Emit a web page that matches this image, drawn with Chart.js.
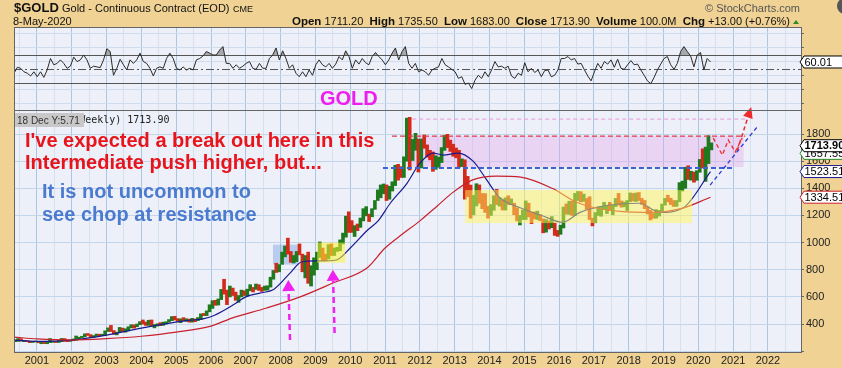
<!DOCTYPE html>
<html>
<head>
<meta charset="utf-8">
<script src="https://cdn.jsdelivr.net/npm/chart.js@4/dist/chart.umd.min.js"></script>
<style>
  body { margin: 0; background: #f0d294; }
  #wrap { position: relative; width: 842px; height: 368px; overflow: hidden; background: #f0d294; }
  #wrap canvas { position: absolute; left: 0; top: 0; }
</style>
</head>
<body>
<div id="wrap">
  <canvas id="rsi" width="842" height="368"></canvas>
  <canvas id="price" width="842" height="368"></canvas>
</div>
<script>
// ---- data: $GOLD monthly ranges, May 2000 .. May 2020 ----
const firstMonth = 2000 + 4 / 12; // May 2000
const priceLow = [
  270,272,275,270,270,263,264,268,
  262,255,256,255,263,265,264,264,270,273,270,272,
  277,282,290,300,306,316,300,300,310,310,315,316,
  345,345,325,320,340,345,340,350,372,370,380,395,
  400,390,390,385,372,385,388,390,400,414,425,430,
  420,410,425,420,414,414,417,425,432,462,462,490,
  515,538,540,580,620,543,600,610,575,560,600,610,
  605,645,636,655,648,640,648,650,672,730,780,785,
  840,895,915,855,850,860,910,785,740,700,680,760,
  800,890,865,865,880,905,905,935,940,990,1040,1075,
  1075,1045,1088,1112,1160,1197,1155,1190,1245,1310,1330,1360,
  1310,1320,1380,1420,1460,1480,1480,1600,1535,1605,1680,1520,
  1550,1695,1630,1610,1525,1540,1555,1590,1680,1700,1672,1636,
  1625,1555,1560,1320,1338,1180,1205,1270,1290,1250,1222,1180,
  1200,1238,1280,1268,1240,1240,1280,1280,1205,1160,1130,1170,
  1170,1190,1140,1175,1170,1162,1072,1077,1100,1110,1053,1046,
  1061,1108,1210,1208,1200,1200,1310,1300,1303,1245,1170,1123,
  1146,1200,1194,1244,1214,1236,1205,1265,1276,1261,1264,1236,
  1302,1307,1303,1310,1282,1250,1211,1167,1180,1180,1196,1221,
  1276,1300,1280,1266,1267,1301,1380,1400,1465,1460,1445,1459,
  1518,1550,1451,1582,1683
];
const priceHigh = [
  282,293,292,280,277,273,272,275,
  272,268,268,265,293,275,272,280,294,293,283,281,
  290,312,303,310,328,330,322,315,326,325,325,350,
  372,390,352,340,375,370,365,380,395,394,400,418,
  430,415,428,430,396,402,410,414,417,433,455,457,
  440,438,447,439,436,442,437,448,475,478,497,542,
  572,575,585,655,730,650,680,665,635,610,650,645,
  657,690,670,695,690,670,680,682,745,795,848,838,
  930,975,1033,935,905,935,990,915,905,930,830,888,
  930,1005,960,915,985,990,960,965,1020,1070,1195,1227,
  1162,1125,1137,1181,1250,1265,1210,1250,1310,1388,1425,1432,
  1425,1415,1448,1570,1577,1560,1632,1917,1923,1760,1805,1763,
  1763,1793,1720,1680,1668,1640,1630,1700,1790,1798,1755,1725,
  1697,1680,1617,1610,1488,1424,1348,1434,1425,1362,1361,1268,
  1280,1345,1392,1332,1316,1330,1345,1322,1290,1255,1200,1240,
  1307,1290,1225,1225,1232,1205,1175,1170,1160,1192,1145,1090,
  1128,1262,1285,1305,1305,1363,1377,1375,1357,1325,1338,1180,
  1221,1264,1262,1297,1274,1297,1275,1325,1362,1307,1299,1310,
  1366,1362,1365,1369,1326,1310,1262,1237,1214,1243,1237,1284,
  1326,1349,1327,1310,1310,1442,1453,1555,1566,1526,1520,1530,
  1613,1691,1704,1788,1735
];
const priceClose = [
  275,288,277,278,274,265,270,273,
  265,267,258,264,267,271,266,273,293,279,275,279,
  282,297,302,308,326,318,304,313,324,317,318,347,
  368,347,335,339,364,346,354,375,388,384,398,416,
  400,396,427,387,394,396,391,409,416,429,453,438,
  422,435,428,435,418,436,430,433,473,470,495,518,
  569,556,583,655,645,614,634,626,599,606,648,635,
  650,669,663,679,659,650,666,673,743,795,783,838,
  923,975,917,865,887,930,912,833,880,718,816,884,
  927,942,916,883,979,927,955,955,1008,1040,1182,1096,
  1081,1118,1113,1180,1212,1245,1181,1248,1308,1357,1386,1421,
  1333,1410,1439,1556,1536,1500,1628,1828,1620,1724,1746,1566,
  1738,1697,1669,1664,1559,1604,1614,1692,1776,1720,1713,1675,
  1663,1578,1597,1476,1393,1234,1312,1396,1328,1323,1250,1202,
  1244,1326,1284,1296,1250,1322,1282,1287,1211,1171,1175,1184,
  1279,1212,1183,1182,1190,1172,1095,1132,1114,1141,1064,1060,
  1116,1234,1233,1290,1215,1320,1350,1309,1313,1272,1174,1152,
  1211,1249,1249,1268,1268,1242,1269,1322,1284,1271,1275,1303,
  1345,1318,1327,1316,1305,1253,1224,1206,1192,1215,1222,1282,
  1321,1316,1298,1285,1305,1413,1437,1529,1472,1513,1465,1523,
  1587,1566,1596,1694,1714
];

// moving averages: [year, value]
const ma50 = [
  [2000.34,282],[2001.0,272],[2002.0,282],[2003.0,318],[2004.0,370],[2004.65,400],
  [2005.3,425],[2005.8,440],[2006.1,465],[2006.63,540],[2007.0,600],[2007.4,628],
  [2007.8,655],[2008.27,775],[2008.6,857],[2009.05,865],[2009.6,872],[2010.0,960],
  [2010.5,1093],[2010.8,1160],[2011.15,1290],[2011.63,1437],[2012.0,1585],[2012.38,1660],
  [2012.67,1645],[2013.1,1660],[2013.53,1600],[2013.9,1470],[2014.3,1330],[2014.9,1255],
  [2015.5,1200],[2016.1,1150],[2016.6,1223],[2017.4,1275],[2018.3,1290],[2018.9,1223],
  [2019.56,1255],[2020.35,1523]
];
const ma200 = [
  [2000.34,304],[2001.0,290],[2002.0,282],[2003.0,292],[2004.0,310],[2005.0,340],
  [2006.0,385],[2006.6,444],[2007.6,518],[2008.56,600],[2009.5,702],[2010.48,813],
  [2011.0,960],[2011.5,1063],[2012.0,1160],[2012.5,1270],[2012.95,1370],[2013.5,1460],
  [2014.2,1490],[2014.9,1482],[2015.8,1400],[2016.5,1297],[2017.1,1253],[2017.75,1230],
  [2018.7,1223],[2019.5,1250],[2020.35,1334]
];

// RSI(14), one reading every ~5 weeks from 2000.34 to 2020.35
const rsiStart = 2000.34, rsiEnd = 2020.35;
const rsiValues = [
  43.8,52.4,51,46,44,40,46,39,46,38,48.6,65,56,58,63,58,51,54,67,60.6,
  63,70,63,51,54,53,52,63,79,75,41,51,64,56,48.6,63,58,63,72.6,60.6,
  58,51,40,51,53,51,65,72.6,65,51,48.6,53,48.6,51,48.6,63,65,68.7,75,72.6,
  70,70,77,82,58,58,51,56,51,54,58,60.6,51,49.5,58,51,51,65,70,80,
  63,76,65,51,56,44,39,46,39,48.6,41,56,63,56,53,58,51,57,67.8,63,
  76,67.8,51,63,57,65,59,56,67.8,73.5,67.8,63,56,63,72.6,80,63,75,82,58,
  51,58,46,48.6,46,41,48.6,51,53,65,56,53,49.5,46,36.6,39,28,30,22,34,
  41,36.6,46,39,48.6,60.6,53,54,51,54,40,36.6,44,41,59,46,51,45,48.6,39,
  47.6,48.6,39,41,48.6,65,65,67.8,63,65,57,58,48.6,40,33,46,58,51,60.6,57,
  63,52.4,64,51,49.5,56,62,56,57,48.6,41,33,29,38,48.6,57,65,67.8,56,49.5,
  58,75,82,75,68.7,53,70,73.5,48.6,65,60.01
];

const xMin = 2000.34, xMax = 2022.95;
const yearTicks = [2001, 2022];
const priceTicks = [400, 600, 800, 1000, 1200, 1400, 1600, 1800];
const rsiTicks = [10, 30, 50, 70, 90];

// last values shown in the right margin
const lastClose = 1713.90, lastMa20 = 1657.55, lastMa50 = 1523.51, lastMa200 = 1334.51, lastRsi = 60.01;

const up = '#1f7a1f', down = '#d42a1a';
const font = 'Liberation Sans, Arial, sans-serif';

const bars = priceClose.map((c, i) => ({ x: firstMonth + (i + 0.5) / 12, y: [priceLow[i], priceHigh[i]] }));
const barColors = priceClose.map((c, i) => c >= (i ? priceClose[i - 1] : c) ? up : down);
const rsiStep = (rsiEnd - rsiStart) / (rsiValues.length - 1);
const rsiPoints = rsiValues.map((v, i) => ({ x: rsiStart + i * rsiStep, y: v }));

function xGridColor(ctx) {
  const v = ctx.tick.value;
  if (Math.abs(v - Math.round(v)) < 1e-6) return '#a9c6e2';
  return '#d4e2f0';
}

function xAxis(showLabels) {
  return {
    type: 'linear', min: xMin, max: xMax, offset: false,
    grid: { offset: false, color: xGridColor, drawTicks: false },
    border: { color: '#666' },
    ticks: {
      display: showLabels, stepSize: 0.5, includeBounds: false, autoSkip: false, maxRotation: 0,
      padding: 2, color: '#222', font: { family: font, size: 11 },
      callback: v => (Number.isInteger(v) && v >= yearTicks[0] && v <= yearTicks[1]) ? String(v) : ''
    },
    afterFit: s => { s.height = showLabels ? 16 : 0; }
  };
}

function panelBg(chart) {
  const { ctx, chartArea: a } = chart;
  ctx.save();
  ctx.fillStyle = '#eef0f9';
  ctx.fillRect(a.left, a.top, a.right - a.left, a.bottom - a.top);
  ctx.restore();
}

function tag(ctx, x, y, text, color, bold) {
  ctx.save();
  ctx.beginPath();
  ctx.moveTo(x, y);
  ctx.lineTo(x + 4, y - 6);
  ctx.lineTo(843, y - 6);
  ctx.lineTo(843, y + 6);
  ctx.lineTo(x + 4, y + 6);
  ctx.closePath();
  ctx.fillStyle = '#fff';
  ctx.fill();
  ctx.strokeStyle = color;
  ctx.lineWidth = 1;
  ctx.stroke();
  ctx.fillStyle = '#000';
  ctx.font = (bold ? 'bold ' : '') + '11px ' + font;
  ctx.textBaseline = 'middle';
  ctx.fillText(text, x + 4.5, y + 0.5);
  ctx.restore();
}

function arrow(ctx, x1, y1, x2, y2, color, w, dash, head, half) {
  const ang = Math.atan2(y2 - y1, x2 - x1);
  const hx = x2 - Math.cos(ang) * head, hy = y2 - Math.sin(ang) * head;
  ctx.save();
  ctx.strokeStyle = color; ctx.fillStyle = color; ctx.lineWidth = w;
  ctx.setLineDash(dash);
  ctx.beginPath(); ctx.moveTo(x1, y1); ctx.lineTo(hx, hy); ctx.stroke();
  ctx.setLineDash([]);
  ctx.beginPath();
  ctx.moveTo(x2, y2);
  ctx.lineTo(hx + Math.sin(ang) * half, hy - Math.cos(ang) * half);
  ctx.lineTo(hx - Math.sin(ang) * half, hy + Math.cos(ang) * half);
  ctx.closePath(); ctx.fill();
  ctx.restore();
}

// ---- RSI panel ----
const rsiPlugin = {
  id: 'rsiPanel',
  beforeDraw: panelBg,
  beforeDatasetsDraw(chart) {
    const { ctx, chartArea: a, scales: { y } } = chart;
    ctx.save();
    ctx.strokeStyle = '#555';
    ctx.lineWidth = 1;
    [30, 70].forEach(v => {
      const p = Math.round(y.getPixelForValue(v)) + 0.5;
      ctx.beginPath(); ctx.moveTo(a.left, p); ctx.lineTo(a.right, p); ctx.stroke();
    });
    ctx.setLineDash([8, 3, 2, 3]);
    const p = Math.round(y.getPixelForValue(50)) + 0.5;
    ctx.beginPath(); ctx.moveTo(a.left, p); ctx.lineTo(a.right, p); ctx.stroke();
    ctx.restore();
  },
  afterDraw(chart) {
    const { ctx, chartArea: a, scales: { y } } = chart;
    ctx.save();
    ctx.strokeStyle = '#666';
    ctx.strokeRect(a.left + 0.5, a.top + 0.5, a.right - a.left, a.bottom - a.top);
    ctx.restore();
    tag(ctx, a.right - 1, y.getPixelForValue(lastRsi), lastRsi.toFixed(2), '#000', false);
  }
};

new Chart(document.getElementById('rsi'), {
  type: 'line',
  data: {
    datasets: [{
      label: 'RSI(14)',
      data: rsiPoints,
      borderColor: '#2a2a2a',
      borderWidth: 1,
      pointRadius: 0,
      tension: 0,
      fill: { target: { value: 70 }, above: 'rgba(110,110,110,0.55)', below: 'rgba(0,0,0,0)' }
    }]
  },
  options: {
    responsive: false,
    animation: false,
    layout: { padding: { left: 14, right: 0, top: 27, bottom: 258 } },
    plugins: { legend: { display: false }, tooltip: { enabled: false } },
    scales: {
      x: xAxis(false),
      y: {
        position: 'right', min: -8.6, max: 110,
        grid: { color: '#d0dcec', tickLength: 3, tickColor: '#666' },
        border: { color: '#666' },
        ticks: {
          stepSize: 10, includeBounds: false, padding: 2, color: '#222',
          font: { family: font, size: 11 },
          callback: v => rsiTicks.includes(v) ? String(v) : ''
        },
        afterFit: s => { s.width = 41; }
      }
    }
  },
  plugins: [rsiPlugin]
});

// ---- price panel ----
const pricePlugin = {
  id: 'pricePanel',
  beforeDraw: panelBg,
  beforeDatasetsDraw(chart) {
    const { ctx, scales: { x, y } } = chart;
    const box = (x1, x2, y1, y2, fill) => {
      ctx.fillStyle = fill;
      ctx.fillRect(x.getPixelForValue(x1), y.getPixelForValue(y2),
        x.getPixelForValue(x2) - x.getPixelForValue(x1), y.getPixelForValue(y1) - y.getPixelForValue(y2));
    };
    ctx.save();
    box(2011.78, 2021.3, 1557, 1785, 'rgba(226,165,236,0.38)');
    box(2007.78, 2008.5, 838, 985, 'rgba(120,160,225,0.45)');
    ctx.restore();
  },
  afterDatasetsDraw(chart) {
    const { ctx, chartArea: a, scales: { x, y } } = chart;
    const X = v => x.getPixelForValue(v), Y = v => y.getPixelForValue(v);
    ctx.save();
    // yellow consolidation boxes
    ctx.fillStyle = 'rgba(255,248,90,0.5)';
    ctx.fillRect(X(2013.3), Y(1387), X(2019.82) - X(2013.3), Y(1144) - Y(1387));
    ctx.fillStyle = 'rgba(255,245,50,0.55)';
    ctx.fillRect(X(2009.05), Y(1000), X(2009.85) - X(2009.05), Y(852) - Y(1000));

    const hline = (v, x1, x2, color, w, dash) => {
      ctx.strokeStyle = color; ctx.lineWidth = w; ctx.setLineDash(dash);
      ctx.beginPath(); ctx.moveTo(X(x1), Y(v)); ctx.lineTo(X(x2), Y(v)); ctx.stroke();
    };
    hline(1910, 2011.78, 2021.35, '#ec94d4', 1, [4, 3]);
    hline(1785, 2011.2, 2021.35, '#e23a44', 1.2, [5, 3]);
    hline(1550, 2010.94, 2021.0, '#3a62d2', 2, [5, 3]);

    // projected chop path
    const zig = [[2020.43, 1770], [2020.69, 1645], [2020.86, 1756], [2021.06, 1668], [2021.26, 1770]];
    ctx.strokeStyle = '#ee2a2a'; ctx.lineWidth = 1.3; ctx.setLineDash([4, 3]);
    ctx.beginPath();
    zig.forEach((p, i) => i ? ctx.lineTo(X(p[0]), Y(p[1])) : ctx.moveTo(X(p[0]), Y(p[1])));
    ctx.stroke();
    ctx.setLineDash([]);
    ctx.restore();

    arrow(ctx, X(2021.12), Y(1680), X(2021.52), Y(2000), '#ee2a2a', 1.5, [4, 3], 11, 5);
    arrow(ctx, X(2020.34), Y(1424), X(2021.69), Y(1852), '#2a3ad0', 1.3, [4, 3], 0.1, 0);
    arrow(ctx, X(2008.27), Y(282), X(2008.22), Y(724), '#f020f0', 2.5, [6, 4], 11, 6.5);
    arrow(ctx, X(2009.55), Y(334), X(2009.5), Y(800), '#f020f0', 2.5, [6, 4], 11, 6.5);

    // notes
    ctx.save();
    ctx.font = 'bold 20px ' + font;
    ctx.fillStyle = '#e8141c';
    ctx.fillText("I've expected a break out here in this", 25, 147);
    ctx.fillText('Intermediate push higher, but...', 25, 169);
    ctx.fillStyle = '#4a7bcf';
    ctx.fillText('It is not uncommon to', 42, 198);
    ctx.fillText('see chop at resistance', 42, 221);

    ctx.font = '10px DejaVu Sans Mono, monospace';
    ctx.fillStyle = '#222';
    ctx.fillText('$GOLD (Weekly) 1713.90', 37, 123);
    ctx.fillStyle = '#c8c8c8';
    ctx.fillRect(a.left + 1, 113, 69, 14);
    ctx.font = '10px ' + font;
    ctx.fillStyle = '#333';
    ctx.fillText('18 Dec Y:5.71', 17, 123.5);
    ctx.restore();
  },
  afterDraw(chart) {
    const { ctx, chartArea: a, scales: { y } } = chart;
    ctx.save();
    ctx.strokeStyle = '#666';
    ctx.strokeRect(a.left + 0.5, a.top + 0.5, a.right - a.left, a.bottom - a.top);

    // header
    ctx.fillStyle = '#111';
    ctx.font = 'bold 13px ' + font;
    ctx.fillText('$GOLD', 14, 12);
    ctx.font = '11px ' + font;
    ctx.fillText('Gold - Continuous Contract (EOD)', 62, 12);
    ctx.font = '9px ' + font;
    ctx.fillText('CME', 233, 12);
    ctx.font = '11px ' + font;
    ctx.fillText('8-May-2020', 13, 25);

    const segs = [
      ['Open', 1], [' 1711.20  ', 0], ['High', 1], [' 1735.50  ', 0], ['Low', 1], [' 1683.00  ', 0],
      ['Close', 1], [' 1713.90  ', 0], ['Volume', 1], [' 100.0M  ', 0], ['Chg', 1], [' +13.00 (+0.76%)', 0]
    ];
    const f = b => (b ? 'bold 11.5px ' : '11px ') + font;
    let total = 0;
    segs.forEach(s => { ctx.font = f(s[1]); total += ctx.measureText(s[0]).width; });
    let cx = 790 - total;
    segs.forEach(s => { ctx.font = f(s[1]); ctx.fillText(s[0], cx, 25); cx += ctx.measureText(s[0]).width; });
    ctx.fillStyle = '#2a8a2a';
    ctx.beginPath(); ctx.moveTo(793, 24); ctx.lineTo(799, 24); ctx.lineTo(796, 20); ctx.closePath(); ctx.fill();

    ctx.fillStyle = '#555';
    ctx.font = '11px ' + font;
    ctx.textAlign = 'right';
    ctx.fillText('\u00a9 StockCharts.com', 800, 12);
    ctx.textAlign = 'left';
    ctx.beginPath(); ctx.arc(845, 6, 8, 0, Math.PI * 2); ctx.fillStyle = '#555'; ctx.fill();

    ctx.font = 'bold 20px ' + font;
    ctx.fillStyle = '#ee1cee';
    ctx.fillText('GOLD', 320, 105);
    ctx.restore();

    tag(ctx, a.right - 1, y.getPixelForValue(lastMa20), lastMa20.toFixed(2), '#2a8a2a', false);
    tag(ctx, a.right - 1, y.getPixelForValue(lastClose), lastClose.toFixed(2), '#000', true);
    tag(ctx, a.right - 1, y.getPixelForValue(lastMa50), lastMa50.toFixed(2), '#1a1a8e', false);
    tag(ctx, a.right - 1, y.getPixelForValue(lastMa200), lastMa200.toFixed(2), '#c8202c', false);
  }
};

new Chart(document.getElementById('price'), {
  type: 'bar',
  data: {
    datasets: [
      {
        type: 'line', label: 'MA(200)', data: ma200.map(p => ({ x: p[0], y: p[1] })),
        borderColor: '#c8202c', borderWidth: 1.2, pointRadius: 0, cubicInterpolationMode: 'monotone', order: 1
      },
      {
        type: 'line', label: 'MA(50)', data: ma50.map(p => ({ x: p[0], y: p[1] })),
        borderColor: '#1a1a8e', borderWidth: 1.2, pointRadius: 0, cubicInterpolationMode: 'monotone', order: 1
      },
      {
        type: 'bar', label: '$GOLD', data: bars, backgroundColor: barColors,
        barThickness: 3, grouped: false, order: 2
      }
    ]
  },
  options: {
    responsive: false,
    animation: false,
    layout: { padding: { left: 14, right: 0, top: 110, bottom: 0 } },
    plugins: { legend: { display: false }, tooltip: { enabled: false } },
    scales: {
      x: xAxis(true),
      y: {
        position: 'right', min: 194, max: 1977,
        grid: {
          color: ctx => ctx.tick.value % 200 === 0 ? '#c2d5ea' : 'rgba(0,0,0,0)',
          tickColor: ctx => ctx.tick.value % 200 === 0 ? '#666' : 'rgba(0,0,0,0)',
          tickLength: 3
        },
        border: { color: '#666' },
        ticks: {
          stepSize: 100, includeBounds: false, padding: 2, color: '#222',
          font: { family: font, size: 11 },
          callback: v => priceTicks.includes(v) ? String(v) : ''
        },
        afterFit: s => { s.width = 41; }
      }
    }
  },
  plugins: [pricePlugin]
});
</script>
</body>
</html>
